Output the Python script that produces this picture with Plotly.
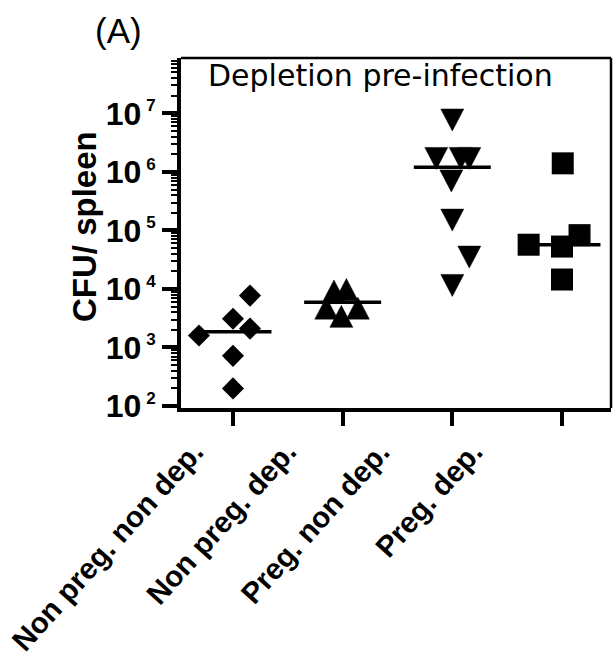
import math
import plotly.graph_objects as go

# ---------------- data ----------------
groups = ["Non preg. non dep.", "Non preg. dep.", "Preg. non dep.", "Preg. dep."]

cfu_nonpreg_nondep = [7700, 3100, 2100, 1600, 720, 200]
cfu_nonpreg_dep = [9800, 9200, 4700, 4700, 3400]
cfu_preg_nondep = [7.7e6, 1.7e6, 1.7e6, 1.7e6, 7.0e5, 1.5e5, 3.5e4, 1.15e4]
cfu_preg_dep = [1.4e6, 8.3e4, 5.7e4, 5.3e4, 1.45e4]

median_cfu = [1850, 5950, 1.2e6, 5.7e4]

y_tick_exponents = [2, 3, 4, 5, 6, 7]

# ---------------- geometry / style ----------------
W, H = 616, 664
M_L, M_R, M_T, M_B = 181, 5, 58, 256
PLOT_W = W - M_L - M_R
PLOT_H = H - M_T - M_B
X_RANGE = [-0.474, 3.447]
Y_RANGE = [1.966, 7.946]  # log10 units
UNIT_PER_PX_X = (X_RANGE[1] - X_RANGE[0]) / PLOT_W
DEC_PER_PX_Y = (Y_RANGE[1] - Y_RANGE[0]) / PLOT_H

# horizontal spread of overlapping dots (category units)
spread_nonpreg_nondep = [0.155, 0.0, 0.155, -0.31, 0.0, 0.0]
spread_nonpreg_dep = [0.034, -0.079, -0.149, 0.139, -0.012]
spread_preg_nondep = [0.0, -0.146, 0.077, 0.155, -0.009, 0.0, 0.155, 0.0]
spread_preg_dep = [0.007, 0.16, -0.304, 0.0, 0.0]

FONT = "Liberation Sans, Arial, sans-serif"


def px_to_paper_x(px):
    return (px - M_L) / PLOT_W


def px_to_paper_y(py):
    return (M_T + PLOT_H - py) / PLOT_H


def triangle_paths(center, spread, values, up, w=23, h=22):
    """Closed triangle outlines (separated by gaps) around each value."""
    hw = w / 2 * UNIT_PER_PX_X
    hh = h / 2 * DEC_PER_PX_Y
    xs, ys = [], []
    for dx, v in zip(spread, values):
        x = center + dx
        ly = math.log10(v)
        if up:
            pts = [(x - hw, ly - hh), (x + hw, ly - hh), (x, ly + hh)]
        else:
            pts = [(x - hw, ly + hh), (x + hw, ly + hh), (x, ly - hh)]
        for a, b in pts + [pts[0]]:
            xs.append(a)
            ys.append(10 ** b)
        xs.append(None)
        ys.append(None)
    return xs, ys


fig = go.Figure()

# median bars
MED_HALF = 0.351
mx, my = [], []
for i, m in enumerate(median_cfu):
    mx += [i - MED_HALF, i + MED_HALF, None]
    my += [m, m, None]
fig.add_trace(go.Scatter(x=mx, y=my, mode="lines",
                         line=dict(color="black", width=3.5),
                         hoverinfo="skip", showlegend=False))

# group 1: diamonds
fig.add_trace(go.Scatter(
    x=[0 + d for d in spread_nonpreg_nondep], y=cfu_nonpreg_nondep,
    mode="markers", name=groups[0], showlegend=False,
    marker=dict(symbol="diamond", size=17, color="black", line=dict(width=0))))

# group 2: upward triangles
tx, ty = triangle_paths(1, spread_nonpreg_dep, cfu_nonpreg_dep, up=True)
fig.add_trace(go.Scatter(x=tx, y=ty, mode="lines", fill="toself",
                         fillcolor="black", line=dict(color="black", width=0.5),
                         name=groups[1], showlegend=False, hoverinfo="skip"))

# group 3: downward triangles
tx, ty = triangle_paths(2, spread_preg_nondep, cfu_preg_nondep, up=False)
fig.add_trace(go.Scatter(x=tx, y=ty, mode="lines", fill="toself",
                         fillcolor="black", line=dict(color="black", width=0.5),
                         name=groups[2], showlegend=False, hoverinfo="skip"))

# group 4: squares
fig.add_trace(go.Scatter(
    x=[3 + d for d in spread_preg_dep], y=cfu_preg_dep,
    mode="markers", name=groups[3], showlegend=False,
    marker=dict(symbol="square", size=22, color="black", line=dict(width=0))))

y_tick_vals = [10 ** e for e in y_tick_exponents]
y_tick_text = [f"10<sup><span style='font-size:17px'> {e}</span></sup>"
               for e in y_tick_exponents]
minor_vals = [k * 10 ** e for e in range(2, 8) for k in range(2, 10)
              if math.log10(k * 10 ** e) < Y_RANGE[1]]

fig.update_xaxes(
    range=X_RANGE, tickvals=[0, 1, 2, 3], showticklabels=False,
    ticks="outside", ticklen=14, tickwidth=3.5, tickcolor="black",
    showline=True, linewidth=4, linecolor="black",
    showgrid=False, zeroline=False, fixedrange=True)

fig.update_yaxes(
    type="log", range=Y_RANGE, tickvals=y_tick_vals, ticktext=y_tick_text,
    tickfont=dict(family=FONT, size=32, color="black", weight="bold"),
    ticks="outside", ticklen=15, tickwidth=3.5, tickcolor="black",
    minor=dict(tickvals=minor_vals, ticks="outside", ticklen=6,
               tickwidth=2, tickcolor="black", showgrid=False),
    showline=True, linewidth=4, linecolor="black",
    showgrid=False, zeroline=False, fixedrange=True)

annotations = []
# category labels, rotated
LABEL_X0, LABEL_STEP, LABEL_Y = 213, 92.7, 432
for i, g in enumerate(groups):
    annotations.append(dict(
        text=g, textangle=-48, showarrow=False,
        xref="paper", yref="paper",
        x=px_to_paper_x(LABEL_X0 + i * LABEL_STEP), y=px_to_paper_y(LABEL_Y),
        xanchor="right", yanchor="top",
        font=dict(family=FONT, size=29.5, color="black", weight="bold")))

annotations.append(dict(
    text="CFU/ spleen", textangle=-90, showarrow=False,
    xref="paper", yref="paper", x=px_to_paper_x(84), y=px_to_paper_y(227),
    xanchor="center", yanchor="middle",
    font=dict(family=FONT, size=33, color="black", weight="bold")))

annotations.append(dict(
    text="Depletion pre-infection", showarrow=False,
    xref="paper", yref="paper", x=px_to_paper_x(380), y=px_to_paper_y(76),
    xanchor="center", yanchor="middle",
    font=dict(family="DejaVu Sans", size=30, color="black")))

annotations.append(dict(
    text="(A)", showarrow=False,
    xref="paper", yref="paper", x=px_to_paper_x(118), y=px_to_paper_y(31),
    xanchor="center", yanchor="middle",
    font=dict(family=FONT, size=35, color="black")))

fig.update_layout(
    width=W, height=H,
    margin=dict(l=M_L, r=M_R, t=M_T, b=M_B, pad=0),
    paper_bgcolor="white", plot_bgcolor="white",
    showlegend=False,
    annotations=annotations,
    shapes=[
        dict(type="line", xref="paper", yref="paper", x0=0, x1=1, y0=1, y1=1,
             line=dict(color="black", width=2.5)),
        dict(type="line", xref="paper", yref="paper", x0=1, x1=1, y0=0, y1=1,
             line=dict(color="black", width=2.5)),
    ],
)

fig.write_html("out.html", config={"displayModeBar": False})
